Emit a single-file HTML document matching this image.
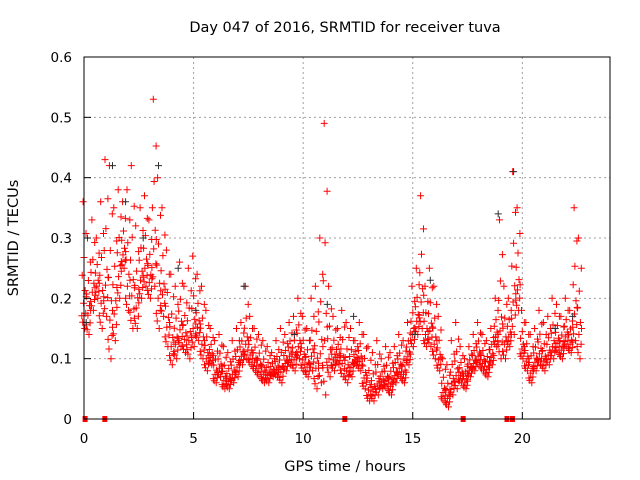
<!DOCTYPE html>
<html><head><meta charset="utf-8"><style>
body{margin:0;background:#fff}
svg{display:block;font-family:"DejaVu Sans","Liberation Sans",sans-serif}
</style></head><body>
<svg id="chart" width="640" height="480">
<rect width="640" height="480" fill="#fff"/>
<g id="grid"></g>
<g id="pts"></g>
<rect x="84" y="57" width="526" height="362" fill="none" stroke="#000" stroke-width="1"/>
<g id="ticks"></g>
<text x="345" y="32" text-anchor="middle" font-size="14.5">Day 047 of 2016, SRMTID for receiver tuva</text>
<text x="345" y="471" text-anchor="middle" font-size="14.5">GPS time / hours</text>
<text x="18" y="238" text-anchor="middle" font-size="14.5" transform="rotate(-90 18 238)">SRMTID / TECUs</text>
</svg>
<script>
const xTicks=[0,5,10,15,20];
const yTicks=[0,0.1,0.2,0.3,0.4,0.5,0.6];
const yTickLabels=["0","0.1","0.2","0.3","0.4","0.5","0.6"];
const redT=[0,0.2,0.4,0.6,0.8,1,1.2,1.4,1.6,1.8,2,2.2,2.4,2.6,2.8,3,3.2,3.4,3.6,3.8,4,4.2,4.4,4.6,4.8,5,5.2,5.4,5.6,5.8,6,6.2,6.4,6.6,6.8,7,7.2,7.4,7.6,7.8,8,8.2,8.4,8.6,8.8,9,9.2,9.4,9.6,9.8,10,10.2,10.4,10.6,10.8,11,11.2,11.4,11.6,11.8,12,12.2,12.4,12.6,12.8,13,13.2,13.4,13.6,13.8,14,14.2,14.4,14.6,14.8,15,15.2,15.4,15.6,15.8,16,16.2,16.4,16.6,16.8,17,17.2,17.4,17.6,17.8,18,18.2,18.4,18.6,18.8,19,19.2,19.4,19.6,19.8,20,20.2,20.4,20.6,20.8,21,21.2,21.4,21.6,21.8,22,22.2,22.4,22.6];
const redLo=[.15,.14,.18,.20,.15,.17,.10,.13,.20,.25,.18,.15,.15,.20,.22,.20,.22,.15,.17,.12,.09,.10,.12,.11,.10,.12,.13,.10,.08,.09,.06,.07,.05,.05,.06,.07,.09,.10,.09,.08,.07,.06,.06,.07,.07,.06,.08,.09,.08,.10,.08,.07,.08,.05,.06,.04,.07,.08,.09,.07,.06,.07,.09,.08,.05,.03,.03,.04,.05,.05,.04,.06,.07,.06,.09,.12,.14,.15,.12,.12,.10,.08,.03,.02,.04,.05,.06,.05,.07,.08,.09,.08,.07,.09,.12,.10,.10,.12,.14,.18,.10,.08,.06,.08,.09,.08,.09,.10,.11,.10,.12,.11,.13,.10];
const redHi=[.36,.30,.33,.30,.36,.43,.42,.35,.38,.36,.38,.42,.32,.35,.37,.33,.53,.40,.35,.28,.24,.22,.26,.22,.25,.27,.24,.22,.18,.15,.13,.14,.12,.11,.13,.15,.16,.22,.17,.15,.14,.13,.12,.11,.13,.15,.14,.16,.17,.20,.17,.15,.20,.22,.30,.49,.22,.17,.15,.18,.16,.15,.13,.16,.14,.12,.11,.13,.10,.12,.11,.12,.14,.13,.16,.22,.25,.37,.22,.25,.22,.17,.10,.09,.13,.16,.12,.10,.12,.14,.16,.14,.13,.15,.20,.33,.22,.20,.41,.35,.18,.16,.14,.15,.18,.16,.17,.20,.19,.17,.20,.18,.35,.30];
const blkT=[0.1,1.3,1.9,2.7,3.4,4.3,5.1,7.3,9.6,11.1,12.3,15.1,15.8,18.9,19.6,21.5,22.3];
const blkV=[0.16,0.42,0.36,0.30,0.42,0.25,0.18,0.22,0.14,0.19,0.17,0.14,0.23,0.34,0.41,0.15,0.17];
const gapT=[0.05,0.95,11.9,17.3,19.3,19.55];
const X=t=>84+t*(526/24), Y=v=>419-v*(362/0.6);
const NS="http://www.w3.org/2000/svg";
const grid=document.getElementById('grid'),ticks=document.getElementById('ticks'),pts=document.getElementById('pts');
function mk(tag,attrs,parent){const e=document.createElementNS(NS,tag);for(const k in attrs)e.setAttribute(k,attrs[k]);parent.appendChild(e);return e;}
xTicks.forEach(t=>{
 if(t>0){const g=mk('line',{x1:X(t),x2:X(t),y1:57,y2:419,stroke:'#a0a0a0','stroke-dasharray':'2,3'},grid);
 
 }
 const tx=mk('text',{x:X(t),y:443,'text-anchor':'middle','font-size':13.5},ticks);tx.textContent=t;
 
 
 mk('line',{x1:X(t),x2:X(t),y1:419,y2:412,stroke:'#000'},ticks);
});
yTicks.forEach((v,i)=>{
 if(i>0){const g=mk('line',{x1:84,x2:610,y1:Y(v),y2:Y(v),stroke:'#a0a0a0','stroke-dasharray':'2,3'},grid);
 
 }
 const tx=mk('text',{x:72,y:Y(v)+5,'text-anchor':'end','font-size':13.5},ticks);tx.textContent=yTickLabels[i];
 
 
 mk('line',{x1:84,x2:91,y1:Y(v),y2:Y(v),stroke:'#000'},ticks);
});
let d='';
const plus=(x,y)=>{d+=`M${(x-3.5).toFixed(1)} ${y.toFixed(1)}h7M${x.toFixed(1)} ${(y-3.5).toFixed(1)}v7`;};
const off=[0.03,-0.06,0.08,-0.02,0.05,-0.08,0.0,0.09,-0.04];
const frac=[0,0.05,0.12,0.2,0.3,0.42,0.56,0.75,1];
redT.forEach((t,i)=>{
 const lo=redLo[i],hi=redHi[i];
 for(let k=0;k<frac.length;k++){plus(X(t+off[k]),Y(lo+(hi-lo)*frac[k]));}
 plus(X(t+0.1),Y(lo+(hi-lo)*0.25));
 plus(X(t-0.1),Y(lo+(hi-lo)*0.1));
});
const rp=mk('path',{d:d,stroke:'#ff0000','stroke-width':1,fill:'none'},pts);


d='';
blkT.forEach((t,i)=>plus(X(t),Y(blkV[i])));
const bp=mk('path',{d:d,stroke:'#303030','stroke-width':1,fill:'none'},pts);


gapT.forEach(t=>{const r=mk('rect',{x:X(t)-2.5,y:416,width:5,height:6,fill:'#ff0000'},pts);
 
 });
</script>
</body></html>
